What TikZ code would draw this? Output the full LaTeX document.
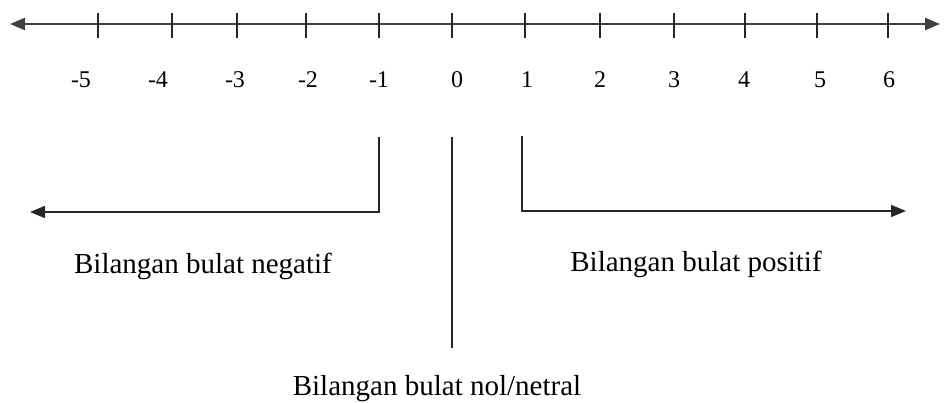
\documentclass[tikz,border=0pt]{standalone}
\usepackage{fontspec}
\setmainfont{Liberation Serif}
\usetikzlibrary{arrows.meta}
\begin{document}
\begin{tikzpicture}[x=1pt,y=-1pt,
  axisline/.style={draw=black!75,line width=2.2pt},
  tickline/.style={draw=black!85,line width=1.4pt},
  conn/.style={draw=black!85,line width=1.5pt},
  tip/.style={-{Triangle[length=15pt,width=12pt]}},
  numlab/.style={font=\fontsize{24}{28}\selectfont,inner sep=0pt},
  grouplab/.style={font=\fontsize{29}{34}\selectfont,inner sep=0pt}]
\useasboundingbox (0,0) rectangle (946,403);
% main axis
\coordinate (axL) at (10,24);
\coordinate (axR) at (940,24);
\draw[axisline,{Triangle[length=15pt,width=12pt]}-{Triangle[length=15pt,width=12pt]}] (axL) -- (axR);
% ticks
\foreach \x/\n in {98/a,172/b,237/c,306/d,379/e,452/f,525/g,600/h,674/i,745/j,817/k,888/l}{
  \coordinate (t\n1) at (\x,13);
  \coordinate (t\n2) at (\x,38);
  \draw[tickline] (t\n1) -- (t\n2);
}
% numbers
\foreach \x/\t/\n in {81/-5/a,158/-4/b,235/-3/c,308/-2/d,379/-1/e,457/0/f,527/1/g,600/2/h,674/3/i,744/4/j,820/5/k,889/6/l}{
  \node[numlab] (n\n) at (\x,80) {\t};
}
% negative bracket
\coordinate (negTop) at (379,137);
\coordinate (negCorner) at (379,212);
\coordinate (negEnd) at (30,212);
\draw[conn,tip] (negTop) -- (negCorner) -- (negEnd);
\node[grouplab] (neg) at (203,266) {Bilangan bulat negatif};
% zero line
\coordinate (zeroTop) at (452,137);
\coordinate (zeroBot) at (452,348);
\draw[conn] (zeroTop) -- (zeroBot);
\node[grouplab] (zero) at (437,389) {Bilangan bulat nol/netral};
% positive bracket
\coordinate (posTop) at (522,136);
\coordinate (posCorner) at (522,211);
\coordinate (posEnd) at (906,211);
\draw[conn,tip] (posTop) -- (posCorner) -- (posEnd);
\node[grouplab] (pos) at (696,264) {Bilangan bulat positif};
\end{tikzpicture}
\end{document}
